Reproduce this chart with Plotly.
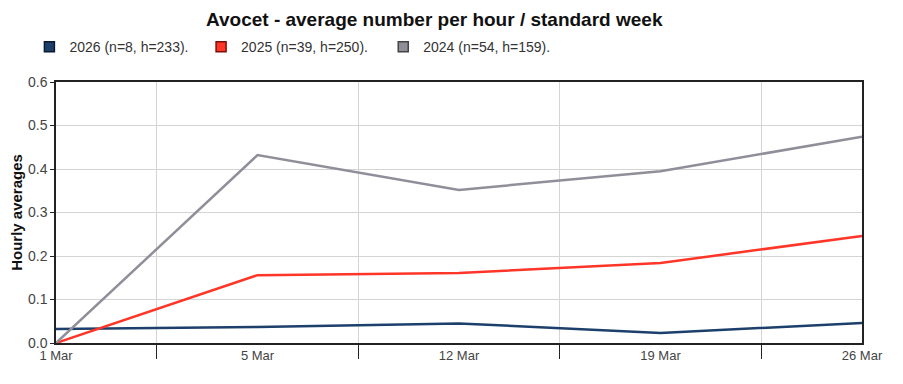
import plotly.graph_objects as go

categories = ["1 Mar", "5 Mar", "12 Mar", "19 Mar", "26 Mar"]
series_names = ["2026 (n=8, h=233).", "2025 (n=39, h=250).", "2024 (n=54, h=159)."]
v2026 = [0.032, 0.037, 0.045, 0.023, 0.046]
v2025 = [0.0, 0.156, 0.161, 0.184, 0.246]
v2024 = [0.0, 0.432, 0.352, 0.395, 0.474]
colors = ["#1d3f6b", "#ff3527", "#8f8f99"]
border = ["#0b1a33", "#7a1008", "#444444"]

FONT = "Liberation Sans, Arial, sans-serif"

fig = go.Figure()
for name, vals, c in zip(series_names, [v2026, v2025, v2024], colors):
    fig.add_trace(go.Scatter(x=categories, y=vals, mode="lines",
                             line=dict(color=c, width=2.5), showlegend=False,
                             hoverinfo="x+y", name=name))
legend_ids = ["legend", "legend2", "legend3"]
for name, c, b, lg in zip(series_names, colors, border, legend_ids):
    fig.add_trace(go.Scatter(x=[None], y=[None], mode="markers", name=name,
                             legend=lg,
                             marker=dict(symbol="square", size=10, color=c,
                                         line=dict(color=b, width=1.5))))

legend_x = [-0.033, 0.180, 0.406]
def leg(x):
    return dict(orientation="h", x=x, xanchor="left", y=1.134, yanchor="middle",
                font=dict(family=FONT, size=14, color="#333"),
                bgcolor="rgba(0,0,0,0)")

fig.update_layout(
    width=903, height=384,
    margin=dict(l=48, r=49, t=74, b=49, autoexpand=False),
    paper_bgcolor="white", plot_bgcolor="white",
    font=dict(family=FONT, size=13, color="#444"),
    title=dict(text="<b>Avocet - average number per hour / standard week</b>",
               x=0.472, xanchor="center", y=0.971, yanchor="middle",
               font=dict(family=FONT, size=19, color="#111")),
    legend=leg(legend_x[0]), legend2=leg(legend_x[1]), legend3=leg(legend_x[2]),
    xaxis=dict(type="category", range=[0, 4], tickson="boundaries",
               showgrid=True, gridcolor="#d4d4d4", gridwidth=1,
               ticks="outside", ticklen=14, tickcolor="#222", tickwidth=1,
               showline=True, linecolor="#222", linewidth=1.5, mirror=True,
               tickfont=dict(family=FONT, size=13, color="#444"), fixedrange=True),
    yaxis=dict(range=[0, 0.6], dtick=0.1, tickformat=".1f",
               showgrid=True, gridcolor="#d4d4d4", gridwidth=1,
               ticks="outside", ticklen=4, tickcolor="#222",
               showline=True, linecolor="#222", linewidth=1.5, mirror=True,
               zeroline=False,
               title=dict(text="<b>Hourly averages</b>", standoff=3,
                          font=dict(family=FONT, size=15, color="#111")),
               tickfont=dict(family=FONT, size=14, color="#444"), fixedrange=True),
)
fig.write_html("out.html")
